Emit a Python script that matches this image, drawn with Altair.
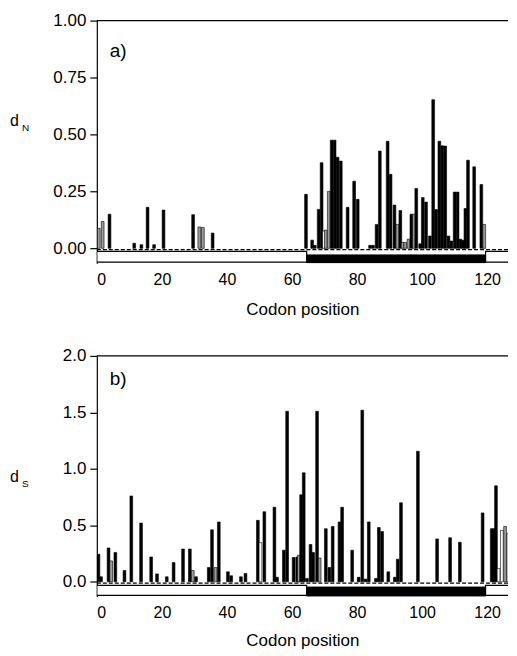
import altair as alt
import pandas as pd

# ---------------- data ----------------
# panel a) dN : codon position (bar centre), value, fill style (k=black, g=stippled grey, w=open)
a_pos = [0.6, 1.8, 3.9, 11.5, 13.7, 15.6, 17.6, 20.5, 29.6, 31.5, 32.6, 35.6,
         64.3, 66.2, 67.0, 68.2, 69.1, 69.8, 70.4, 71.3, 72.2, 73.1, 74.0, 75.0,
         77.1, 79.1, 80.2, 84.0, 84.9, 86.0, 87.0, 89.4, 90.3, 91.5, 92.4, 93.3,
         94.0, 94.8, 95.8, 96.7, 97.5, 98.2, 99.4, 100.2, 101.2, 102.4, 103.4, 104.3,
         105.3, 106.2, 107.1, 108.1, 109.0, 110.0, 110.9, 111.8, 112.6, 113.3, 114.1,
         116.0, 118.2, 119.1]
a_val = [0.088, 0.118, 0.150, 0.022, 0.016, 0.180, 0.016, 0.168, 0.148, 0.094, 0.092, 0.067,
         0.237, 0.036, 0.013, 0.171, 0.376, 0.076, 0.080, 0.250, 0.475, 0.475, 0.400, 0.383,
         0.180, 0.295, 0.215, 0.013, 0.013, 0.105, 0.427, 0.470, 0.325, 0.190, 0.105, 0.166,
         0.026, 0.026, 0.040, 0.150, 0.150, 0.263, 0.020, 0.223, 0.203, 0.054, 0.653, 0.170,
         0.470, 0.450, 0.449, 0.054, 0.032, 0.247, 0.247, 0.040, 0.035, 0.175, 0.387,
         0.358, 0.280, 0.105]
a_fill = ["g", "g", "k", "k", "k", "k", "k", "k", "k", "g", "g", "k",
          "k", "k", "k", "k", "k", "w", "g", "g", "k", "k", "k", "k",
          "k", "k", "k", "k", "k", "k", "k", "k", "k", "k", "g", "k",
          "g", "g", "g", "k", "g", "k", "k", "k", "k", "k", "k", "k",
          "k", "k", "k", "k", "k", "k", "k", "k", "k", "k", "k",
          "k", "k", "g"]

# panel b) dS
b_pos = [0.5, 1.3, 3.6, 4.4, 5.7, 8.5, 10.6, 13.6, 16.7, 18.5, 21.5, 23.6, 26.5, 28.6,
         29.5, 30.5, 34.4, 35.4, 36.5, 37.5, 40.3, 41.3, 44.3, 45.7, 49.5, 50.3, 51.5,
         54.6, 55.4, 57.5, 58.5, 60.5, 61.6, 62.1, 62.8, 63.6, 64.6, 65.7, 66.5, 67.7,
         68.5, 70.4, 71.5, 72.5, 74.6, 75.4, 78.5, 80.5, 81.6, 82.6, 83.6, 85.8, 86.7,
         87.7, 89.6, 91.6, 92.5, 93.5, 98.7, 104.6, 108.6, 111.6, 118.6, 121.4, 122.0,
         122.7, 123.5, 124.5, 125.5, 126.5, 129.0]
b_val = [0.244, 0.044, 0.300, 0.185, 0.260, 0.100, 0.760, 0.520, 0.220, 0.070, 0.044, 0.170,
         0.290, 0.290, 0.100, 0.044, 0.126, 0.460, 0.126, 0.530, 0.088, 0.053, 0.044, 0.074,
         0.544, 0.347, 0.620, 0.660, 0.040, 0.280, 1.510, 0.215, 0.220, 0.235, 0.770, 0.965,
         0.030, 0.330, 0.260, 1.510, 0.210, 0.470, 0.126, 0.490, 0.530, 0.660, 0.280, 0.040,
         1.520, 0.024, 0.530, 0.030, 0.480, 0.445, 0.088, 0.040, 0.200, 0.700, 1.156, 0.380,
         0.390, 0.350, 0.610, 0.470, 0.470, 0.850, 0.118, 0.455, 0.490, 0.426, 0.450]
b_fill = ["k", "k", "k", "g", "k", "k", "k", "k", "k", "k", "k", "k", "k", "k",
          "g", "k", "k", "k", "g", "k", "k", "k", "k", "k", "k", "w", "k",
          "k", "k", "k", "k", "k", "k", "g", "k", "k", "k", "k", "k", "k",
          "g", "k", "k", "k", "k", "k", "k", "k", "k", "k", "k", "k", "k",
          "k", "k", "k", "k", "k", "k", "k", "k", "k", "k", "k", "k",
          "k", "w", "w", "g", "w", "k"]

# structural domains drawn under the axis
dom_start = [0, 64.5, 119.5]
dom_end = [64.5, 119.5, 131]
dom_kind = ["open", "solid", "open"]

x_ticks = [0, 20, 40, 60, 80, 100, 120]
a_ticks = [0.0, 0.25, 0.5, 0.75, 1.0]
b_ticks = [0.0, 0.5, 1.0, 1.5, 2.0]

FONT = "Liberation Sans"
W = 412
XMAX = 126.4


def panel(pos, val, fill, ymin, ymax, yticks, yfmt, tag, tag_y, sub, sub_y, h,
          box_open, box_solid, dash_y, title_pad):
    xs = alt.Scale(domain=[0, XMAX], nice=False, zero=False)
    ys = alt.Scale(domain=[ymin, ymax], nice=False, zero=False)
    df = pd.DataFrame({"pos": pos, "val": val, "fill": fill})
    bars = alt.Chart(df).transform_calculate(
        x0="datum.pos - 0.42", x1="datum.pos + 0.42"
    ).mark_bar(stroke="black", strokeWidth=0.6, clip=True).encode(
        x=alt.X("x0:Q", scale=xs, axis=alt.Axis(
            values=x_ticks, title="Codon position", grid=False, domain=False,
            ticks=False, labelPadding=8, titlePadding=title_pad, labelFontSize=16,
            titleFontSize=17, labelFont=FONT, titleFont=FONT, labelColor="black",
            titleColor="black", titleFontWeight="normal")),
        x2="x1:Q",
        y=alt.Y("val:Q", scale=ys, axis=alt.Axis(
            values=yticks, format=yfmt, title=None, grid=False, domain=True,
            domainColor="black", domainWidth=1.2, tickColor="black", tickSize=7,
            tickWidth=1.2, labelPadding=4, labelFontSize=17, labelFont=FONT,
            labelColor="black")),
        y2=alt.datum(0),
        fill=alt.Fill("fill:N", scale=alt.Scale(domain=["k", "g", "w"],
                                                range=["black", "#9c9c9c", "white"]),
                      legend=None),
    )
    bdf = pd.DataFrame({"s": dom_start, "e": dom_end, "kind": dom_kind})
    boxes_open = alt.Chart(bdf).transform_filter("datum.kind == 'open'").mark_rect(
        fill="white", stroke="black", strokeWidth=1.2, clip=True).encode(
        x=alt.X("s:Q", scale=xs), x2="e:Q",
        y=alt.datum(box_open[0], scale=ys), y2=alt.datum(box_open[1]))
    boxes_solid = alt.Chart(bdf).transform_filter("datum.kind == 'solid'").mark_rect(
        fill="black", stroke="black", strokeWidth=1, clip=True).encode(
        x=alt.X("s:Q", scale=xs), x2="e:Q",
        y=alt.datum(box_solid[0], scale=ys), y2=alt.datum(box_solid[1]))
    one = alt.Data(values=[{}])
    dash = alt.Chart(one).mark_rule(color="black", strokeDash=[4, 2], strokeWidth=1.3,
                                    clip=True).encode(
        x=alt.datum(0, scale=xs), x2=alt.datum(XMAX), y=alt.datum(dash_y, scale=ys))
    top = alt.Chart(one).mark_rule(color="black", strokeWidth=1.2).encode(
        x=alt.value(0), x2=alt.value(W), y=alt.value(0))
    t_tag = alt.Chart(one).mark_text(align="left", baseline="alphabetic", fontSize=19,
                                     font=FONT, color="black").encode(
        x=alt.value(13), y=alt.value(tag_y), text=alt.value(tag))
    t_d = alt.Chart(one).mark_text(align="left", baseline="alphabetic", fontSize=16,
                                   font=FONT, color="black").encode(
        x=alt.value(-87), y=alt.value(sub_y - 5), text=alt.value("d"))
    t_sub = alt.Chart(one).mark_text(align="left", baseline="alphabetic", fontSize=10,
                                     font=FONT, color="black").encode(
        x=alt.value(-75), y=alt.value(sub_y), text=alt.value(sub))
    return alt.layer(boxes_open, boxes_solid, bars, dash, top, t_tag, t_d, t_sub).properties(
        width=W, height=h)


pa = panel(a_pos, a_val, a_fill, -0.065, 1.0, a_ticks, ".2f", "a)", 36, "N", 111, 243,
           (-0.013, -0.061), (-0.029, -0.064), -0.006, 14)
pb = panel(b_pos, b_val, b_fill, -0.13, 2.0, b_ticks, ".1f", "b)", 29, "S", 131, 241,
           (-0.032, -0.12), (-0.047, -0.128), -0.012, 12)

chart = alt.vconcat(pa, pb, spacing=30).resolve_scale(
    x="independent", y="independent"
).configure_view(stroke=None).properties(
    padding={"left": 2, "top": 3, "right": 0, "bottom": 0}, background="white")

chart.save("out.html", embed_options={"renderer": "svg", "actions": False})
